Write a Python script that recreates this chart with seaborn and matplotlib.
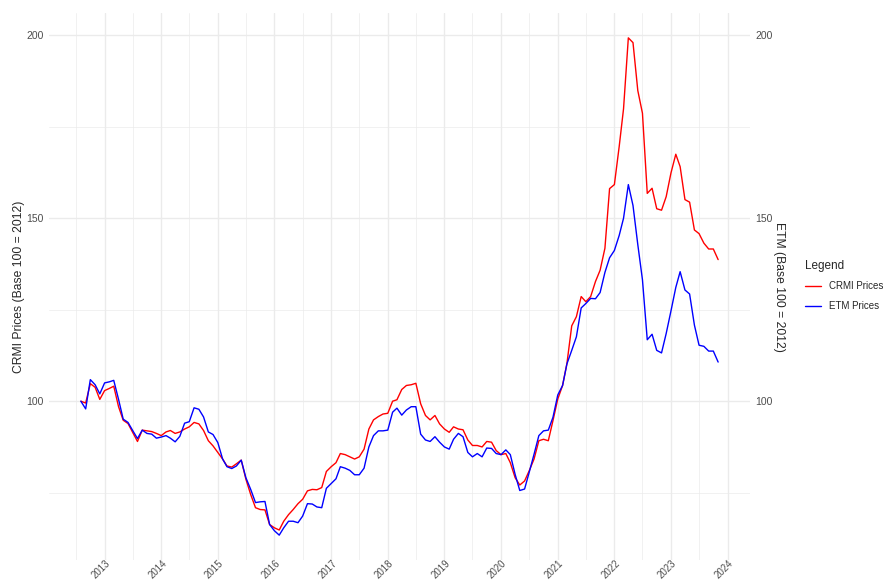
import pandas as pd
import matplotlib.pyplot as plt
import matplotlib.dates as mdates
from matplotlib.ticker import FixedLocator
from matplotlib.transforms import ScaledTranslation
import seaborn as sns

# monthly index values, Aug 2012 - Nov 2023 (base 100 = 2012)
months = pd.date_range("2012-08-01", periods=136, freq="MS")

crmi = [
    100.0, 99.5, 104.8, 103.8, 100.5,
    102.9, 103.5, 104.1, 98.5, 94.8, 93.9, 91.5, 89.0, 92.1, 91.9, 91.7, 91.2,
    90.6, 91.6, 92.0, 91.2, 91.6, 92.4, 93.0, 94.2, 93.8, 92.0, 89.2, 87.8,
    86.0, 84.2, 82.3, 82.0, 82.9, 83.9, 78.7, 74.5, 70.9, 70.4, 70.3, 66.3,
    65.4, 64.8, 67.2, 69.0, 70.4, 72.0, 73.2, 75.5, 75.9, 75.8, 76.4, 80.8,
    82.1, 83.2, 85.7, 85.4, 84.8, 84.2, 84.8, 86.9, 92.4, 94.9, 95.8, 96.5,
    96.7, 100.0, 100.4, 103.2, 104.3, 104.5, 104.9, 99.3, 96.1, 94.9, 96.1, 93.8,
    92.4, 91.5, 93.0, 92.4, 92.2, 89.4, 87.9, 87.9, 87.5, 89.0, 88.8, 86.5,
    85.4, 85.7, 83.2, 79.1, 77.1, 78.2, 81.0, 84.2, 89.2, 89.6, 89.2, 94.7,
    100.6, 104.3, 110.3, 120.6, 123.1, 128.6, 127.2, 128.6, 132.7, 135.8, 141.8, 158.1,
    159.2, 169.6, 179.9, 199.3, 198.0, 184.9, 178.7, 156.8, 158.2, 152.6, 152.2, 155.9,
    162.4, 167.5, 164.1, 155.1, 154.4, 146.8, 145.8, 143.2, 141.6, 141.6, 138.7,
]

etm = [
    100.0, 97.9, 105.9, 104.5, 102.0,
    105.0, 105.3, 105.7, 100.5, 95.1, 94.2, 92.0, 89.8, 92.1, 91.2, 91.0, 89.9,
    90.2, 90.6, 89.9, 88.9, 90.4, 94.0, 94.4, 98.2, 97.8, 95.7, 91.6, 90.9,
    88.7, 84.2, 82.1, 81.6, 82.3, 83.9, 79.1, 75.9, 72.3, 72.5, 72.6, 66.3,
    64.6, 63.4, 65.4, 67.2, 67.2, 66.8, 68.6, 72.0, 71.9, 71.1, 70.9, 76.2,
    77.5, 78.8, 82.1, 81.7, 81.1, 79.9, 79.9, 81.7, 87.5, 90.6, 91.9, 91.9,
    92.1, 97.0, 98.1, 96.2, 97.6, 98.5, 98.5, 91.0, 89.4, 89.0, 90.3, 88.8,
    87.5, 86.9, 89.6, 91.2, 90.3, 86.0, 84.8, 85.7, 84.8, 87.2, 87.1, 85.7,
    85.4, 86.7, 85.4, 80.0, 75.6, 76.0, 80.6, 85.5, 90.6, 91.9, 92.1, 95.6,
    101.7, 104.3, 110.2, 113.9, 117.6, 125.5, 126.7, 128.1, 128.0, 129.7, 135.2, 139.2,
    141.2, 145.3, 150.0, 159.2, 153.5, 142.8, 133.2, 116.8, 118.3, 113.9, 113.2, 118.5,
    124.7, 131.1, 135.4, 130.4, 129.3, 120.8, 115.3, 115.0, 113.7, 113.7, 110.7,
]

series_names = ["CRMI Prices", "ETM Prices"]
colors = {"CRMI Prices": "red", "ETM Prices": "blue"}

df = pd.concat([
    pd.DataFrame({"Date": months, "Value": crmi, "Series": series_names[0]}),
    pd.DataFrame({"Date": months, "Value": etm, "Series": series_names[1]}),
])

sns.set_theme(style="white")
plt.rcParams["font.family"] = ["Liberation Sans", "DejaVu Sans"]

fig = plt.figure(figsize=(8.85, 5.82), dpi=100)
ax = fig.add_axes([49 / 885, 22 / 582, 701 / 885, 547 / 582])

sns.lineplot(data=df, x="Date", y="Value", hue="Series", palette=colors,
             linewidth=1.0, ax=ax, legend=False)

# ggplot-like 5% expansion
x0, x1 = mdates.date2num(months[0]), mdates.date2num(months[-1])
dx = (x1 - x0) * 0.05
ax.set_xlim(x0 - dx, x1 + dx)
lo, hi = min(min(crmi), min(etm)), max(max(crmi), max(etm))
dy = (hi - lo) * 0.05
ax.set_ylim(lo - dy, hi + dy)

ax.xaxis.set_major_locator(mdates.YearLocator())
ax.xaxis.set_minor_locator(mdates.MonthLocator(bymonth=7))
ax.xaxis.set_major_formatter(mdates.DateFormatter("%Y"))
ax.yaxis.set_major_locator(FixedLocator([100, 150, 200]))
ax.yaxis.set_minor_locator(FixedLocator([75, 125, 175]))

ax.grid(which="major", color="#EBEBEB", linewidth=1.0)
ax.grid(which="minor", color="#EBEBEB", linewidth=0.5)
ax.set_axisbelow(True)
for s in ax.spines.values():
    s.set_visible(False)

ax.tick_params(axis="both", which="both", length=0, labelsize=7.5, labelcolor="#4D4D4D")
ax.tick_params(axis="y", pad=4)
ax.tick_params(axis="x", pad=1, labelsize=7.0)
shift = ScaledTranslation(4 / 100, 0, fig.dpi_scale_trans)
for lbl in ax.get_xticklabels():
    lbl.set_rotation(45)
    lbl.set_ha("right")
    lbl.set_va("center")
    lbl.set_rotation_mode("anchor")
    lbl.set_transform(lbl.get_transform() + shift)

ax.set_xlabel("")
ax.set_ylabel("CRMI Prices (Base 100 = 2012)", fontsize=8.7, labelpad=1)

sec = ax.secondary_yaxis("right")
sec.yaxis.set_major_locator(FixedLocator([100, 150, 200]))
sec.tick_params(length=0, labelsize=7.5, labelcolor="#4D4D4D", pad=4)
sec.spines["right"].set_visible(False)
sec.set_ylabel("ETM (Base 100 = 2012)", fontsize=8.7, rotation=-90, labelpad=9)

handles = [plt.Line2D([], [], color=colors[n], linewidth=1.0) for n in series_names]
fig.legend(handles, series_names, title="Legend", loc="upper left",
           bbox_to_anchor=(796 / 885, 1 - 251 / 582), frameon=False,
           fontsize=7.0, title_fontsize=8.5, alignment="left",
           handlelength=1.7, handletextpad=0.8, labelspacing=1.0)

fig.savefig("out.png", dpi=100)
